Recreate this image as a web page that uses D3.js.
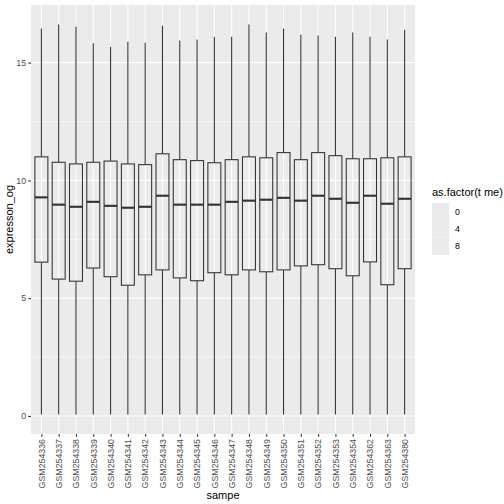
<!DOCTYPE html>
<html lang="en">
<head>
<meta charset="UTF-8">
<title>Expression boxplot</title>
<style>
  body { margin: 0; padding: 0; background: #fff; }
  svg { display: block; font-family: 'Liberation Sans', Arial, sans-serif; }
</style>
</head>
<body>
<div id="chart"></div>
<script src="https://cdn.jsdelivr.net/npm/d3@7"></script>
<script>
// samples on the x axis
const samples = ["GSM254336","GSM254337","GSM254338","GSM254339","GSM254340","GSM254341",
  "GSM254342","GSM254343","GSM254344","GSM254345","GSM254346","GSM254347","GSM254348",
  "GSM254349","GSM254350","GSM254351","GSM254352","GSM254353","GSM254354","GSM254362",
  "GSM254363","GSM254380"];

// box stats
const whiskerLow = [0.06,0.06,0.06,0.06,0.06,0.06,0.06,0.06,0.06,0.06,0.06,
  0.06,0.06,0.06,0.06,0.06,0.06,0.06,0.06,0.06,0.06,0.06];
const q1 = [6.53,5.81,5.72,6.28,5.91,5.55,5.99,6.20,5.86,5.74,6.08,
  5.99,6.20,6.12,6.20,6.37,6.42,6.25,5.95,6.54,5.57,6.25];
const median = [9.28,8.97,8.88,9.09,8.92,8.84,8.88,9.35,8.97,8.97,8.97,
  9.09,9.14,9.18,9.26,9.14,9.35,9.22,9.05,9.35,9.01,9.22];
const q3 = [11.00,10.77,10.70,10.77,10.82,10.70,10.67,11.13,10.88,10.84,10.75,
  10.88,11.00,10.96,11.18,10.88,11.18,11.05,10.92,10.92,10.96,11.00];
const whiskerHigh = [16.45,16.62,16.53,15.82,15.68,15.89,15.85,16.57,15.94,15.98,16.10,
  16.10,16.62,16.28,16.45,16.19,16.15,16.10,16.28,16.10,15.98,16.40];

const yTicks = [0, 5, 10, 15];
const yMinor = [2.5, 7.5, 12.5];
const legendLevels = ["0", "4", "8"];

const width = 504, height = 504;
const panel = { left: 31, right: 415, top: 5, bottom: 434 };

const svg = d3.select("#chart").append("svg")
    .attr("width", width)
    .attr("height", height);

const boxes = samples.map((s, i) => ({
  sample: s, lo: whiskerLow[i], q1: q1[i], med: median[i], q3: q3[i], hi: whiskerHigh[i]
}));

const yMin = d3.min(whiskerLow), yMax = d3.max(whiskerHigh);
const pad = (yMax - yMin) * 0.05;
const y = d3.scaleLinear()
    .domain([yMin - pad, yMax + pad])
    .range([panel.bottom, panel.top]);

const x = d3.scalePoint()
    .domain(samples)
    .range([panel.left, panel.right])
    .padding(0.6);
const boxW = x.step() * 0.75;

// panel background
svg.append("rect")
    .attr("x", panel.left).attr("y", panel.top)
    .attr("width", panel.right - panel.left)
    .attr("height", panel.bottom - panel.top)
    .attr("fill", "#ebebeb");

// grid
svg.append("g").selectAll("line").data(yMinor).join("line")
    .attr("x1", panel.left).attr("x2", panel.right)
    .attr("y1", d => y(d)).attr("y2", d => y(d))
    .attr("stroke", "#fff").attr("stroke-width", 0.53);
svg.append("g").selectAll("line").data(yTicks).join("line")
    .attr("x1", panel.left).attr("x2", panel.right)
    .attr("y1", d => y(d)).attr("y2", d => y(d))
    .attr("stroke", "#fff").attr("stroke-width", 1.07);
svg.append("g").selectAll("line").data(samples).join("line")
    .attr("x1", d => x(d)).attr("x2", d => x(d))
    .attr("y1", panel.top).attr("y2", panel.bottom)
    .attr("stroke", "#fff").attr("stroke-width", 1.07);

// boxplots
const g = svg.append("g").selectAll("g").data(boxes).join("g");
g.append("line")
    .attr("x1", d => x(d.sample)).attr("x2", d => x(d.sample))
    .attr("y1", d => y(d.hi)).attr("y2", d => y(d.q3))
    .attr("stroke", "#333").attr("stroke-width", 1.07);
g.append("line")
    .attr("x1", d => x(d.sample)).attr("x2", d => x(d.sample))
    .attr("y1", d => y(d.q1)).attr("y2", d => y(d.lo))
    .attr("stroke", "#333").attr("stroke-width", 1.07);
g.append("rect")
    .attr("x", d => x(d.sample) - boxW / 2)
    .attr("y", d => y(d.q3))
    .attr("width", boxW)
    .attr("height", d => y(d.q1) - y(d.q3))
    .attr("fill", "none")
    .attr("stroke", "#333").attr("stroke-width", 1.07);
g.append("line")
    .attr("x1", d => x(d.sample) - boxW / 2).attr("x2", d => x(d.sample) + boxW / 2)
    .attr("y1", d => y(d.med)).attr("y2", d => y(d.med))
    .attr("stroke", "#333").attr("stroke-width", 2.13);

// axes
const yAxis = svg.append("g")
    .attr("transform", `translate(${panel.left},0)`)
    .call(d3.axisLeft(y).tickValues(yTicks).tickSize(2.75).tickPadding(2.2));
const xAxis = svg.append("g")
    .attr("transform", `translate(0,${panel.bottom})`)
    .call(d3.axisBottom(x).tickSize(2.75).tickPadding(2.2));
[yAxis, xAxis].forEach(a => {
  a.select(".domain").remove();
  a.selectAll(".tick line").attr("stroke", "#333").attr("stroke-width", 1.07);
  a.selectAll(".tick text").attr("fill", "#4d4d4d")
      .attr("font-size", 8.8).attr("font-family", "'Liberation Sans', Arial, sans-serif");
});
xAxis.selectAll(".tick text")
    .attr("transform", "rotate(-90)")
    .attr("x", -5).attr("y", 0).attr("dy", "0.32em")
    .attr("text-anchor", "end");

// axis titles
svg.append("text")
    .attr("x", (panel.left + panel.right) / 2).attr("y", 499)
    .attr("text-anchor", "middle").attr("font-size", 11).attr("fill", "#000")
    .text("sampe");
svg.append("text")
    .attr("transform", `translate(13,${(panel.top + panel.bottom) / 2}) rotate(-90)`)
    .attr("text-anchor", "middle").attr("font-size", 11).attr("fill", "#000")
    .text("expresson_og");

// legend
const lg = svg.append("g").attr("transform", "translate(432,0)");
lg.append("text")
    .attr("x", 0).attr("y", 196)
    .attr("font-size", 11).attr("fill", "#000")
    .text("as.factor(t me)");
lg.selectAll("rect").data(legendLevels).join("rect")
    .attr("x", 0).attr("y", (d, i) => 203 + i * 17.28)
    .attr("width", 17.28).attr("height", 17.28)
    .attr("fill", "#ebebeb");
lg.selectAll("text.lab").data(legendLevels).join("text")
    .attr("class", "lab")
    .attr("x", 23).attr("y", (d, i) => 203 + i * 17.28 + 8.64)
    .attr("dy", "0.35em")
    .attr("font-size", 8.8).attr("fill", "#000")
    .text(d => d);
</script>
</body>
</html>
